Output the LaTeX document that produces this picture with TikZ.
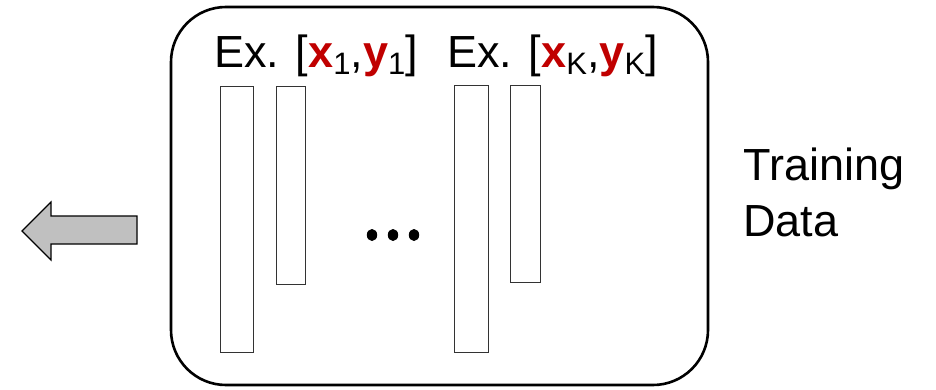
\documentclass[tikz,border=0pt]{standalone}
\usepackage{fontspec}
\setmainfont{Liberation Sans}
\definecolor{exred}{HTML}{C00000}
\definecolor{arrowgray}{HTML}{C0C0C0}
\definecolor{barline}{HTML}{333333}
\newcommand{\vecsym}[2]{\textcolor{exred}{\textbf{#1}}\raisebox{-7pt}{\fontsize{31}{31}\selectfont #2}}
\begin{document}
\begin{tikzpicture}[x=1pt,y=-1pt,
  bar/.style={draw=barline,line width=1pt,fill=white},
  label/.style={inner sep=0pt,anchor=base west,font=\fontsize{45}{56}\selectfont},
  dot/.style={fill=black,draw=none}]
  \useasboundingbox (0,0) rectangle (936,390);

  % rounded container of the training examples
  \draw[line width=2.6pt,rounded corners=55pt] (171,7) rectangle (708,385);

  % example headers
  \node[label] (ex1) at (214,68) {Ex. [\vecsym{x}{1},\vecsym{y}{1}]};
  \node[label] (exK) at (447,68) {Ex. [\vecsym{x}{K},\vecsym{y}{K}]};

  % input / output vectors of the first and last example
  \draw[bar] (220,87) rectangle (253,352) coordinate (x1);
  \draw[bar] (276,87) rectangle (305,284) coordinate (y1);
  \draw[bar] (454,86) rectangle (488,352) coordinate (xK);
  \draw[bar] (510,86) rectangle (540,282) coordinate (yK);

  % ellipsis between the examples
  \foreach \cx in {372,393,414}
    \fill[dot] (\cx,235) ellipse [x radius=5.2pt, y radius=6pt];

  % side label
  \node[label] (train) at (743,180) {Training};
  \node[label] (data) at (743,236) {Data};

  % outgoing block arrow
  \draw[fill=arrowgray,line width=1.2pt,line join=miter]
    (22,231) -- (51,202) -- (51,216) -- (137,216) -- (137,244) -- (51,244) -- (51,260) -- cycle;
\end{tikzpicture}
\end{document}
